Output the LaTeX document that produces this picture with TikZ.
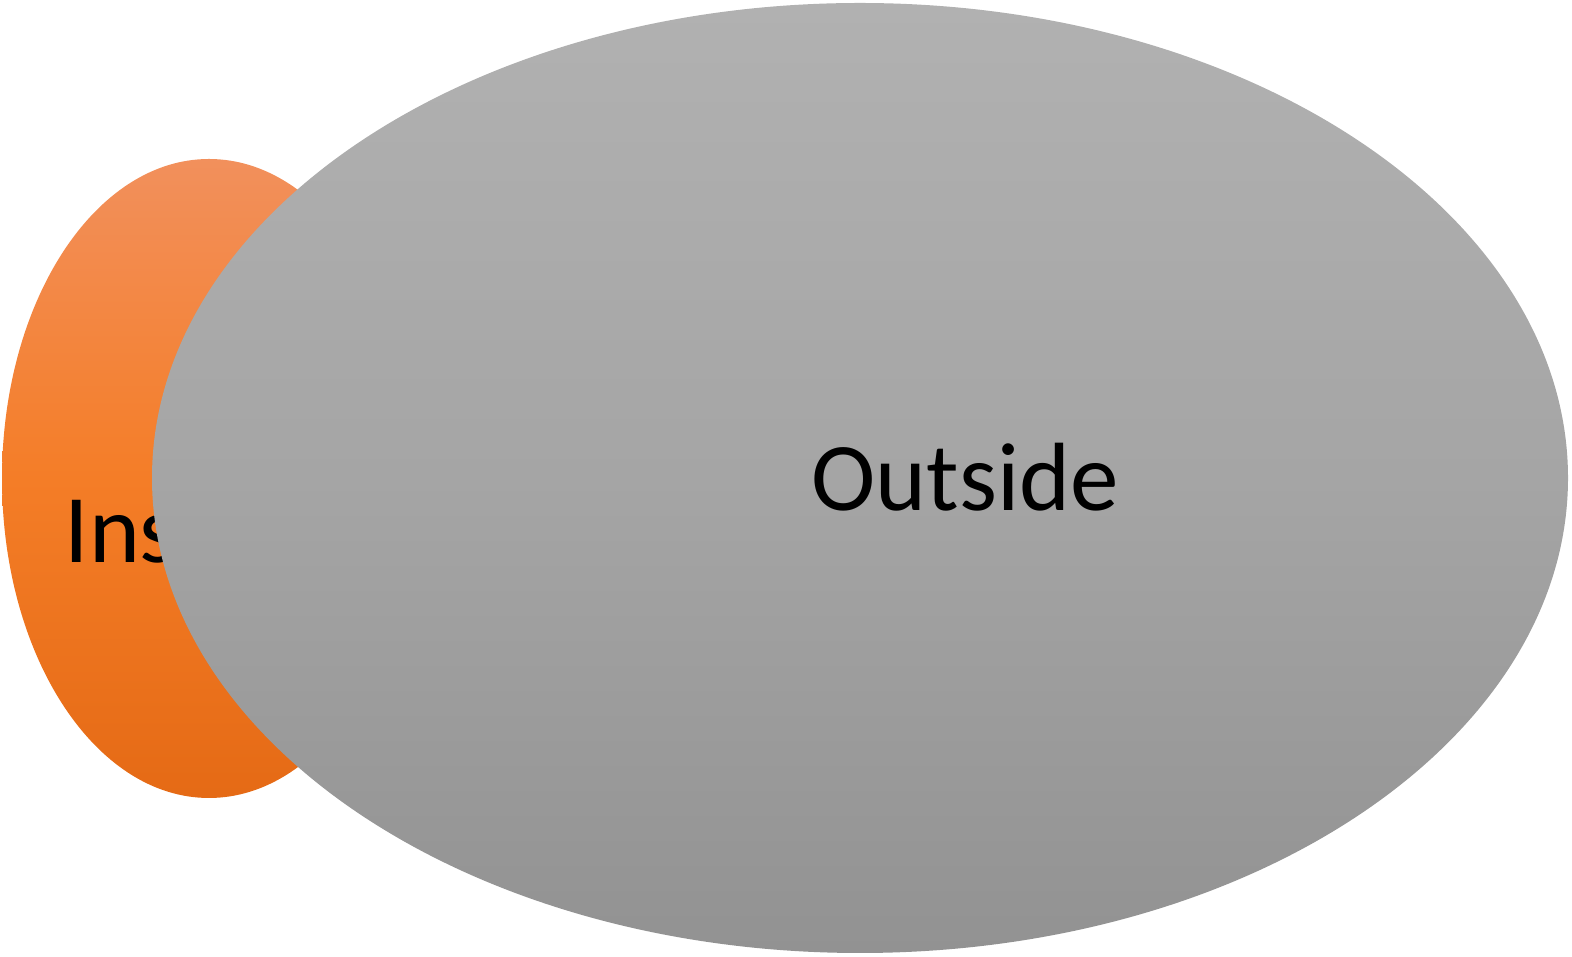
\documentclass[tikz,border=0pt]{standalone}
\usepackage{fontspec}
\setmainfont{Carlito}
\usetikzlibrary{shapes.geometric}
\definecolor{orTop}{HTML}{F2905C}
\definecolor{orMid}{HTML}{F47D27}
\definecolor{orBot}{HTML}{E56A15}
\definecolor{grTop}{HTML}{B1B1B1}
\definecolor{grMid}{HTML}{A5A5A5}
\definecolor{grBot}{HTML}{929292}
\tikzset{
  blob/.style={ellipse, inner sep=0pt, draw=none},
  lbl/.style={font=\fontsize{97}{100}\selectfont, text=black, inner sep=0pt, anchor=base}
}
\begin{document}
\begin{tikzpicture}[x=1pt,y=1pt]
\useasboundingbox (0,0) rectangle (1572,957);
\node[blob, minimum width=414pt, minimum height=639pt, top color=orTop, bottom color=orBot, middle color=orMid] (inner) at (209,478.5) {};
\node[lbl] (inlbl) at (182,394) {Inside};
\node[blob, minimum width=1416pt, minimum height=950pt, top color=grTop, bottom color=grBot, middle color=grMid] (outer) at (860,479) {};
\node[lbl] (outlbl) at (965,446) {Outside};
\end{tikzpicture}
\end{document}
